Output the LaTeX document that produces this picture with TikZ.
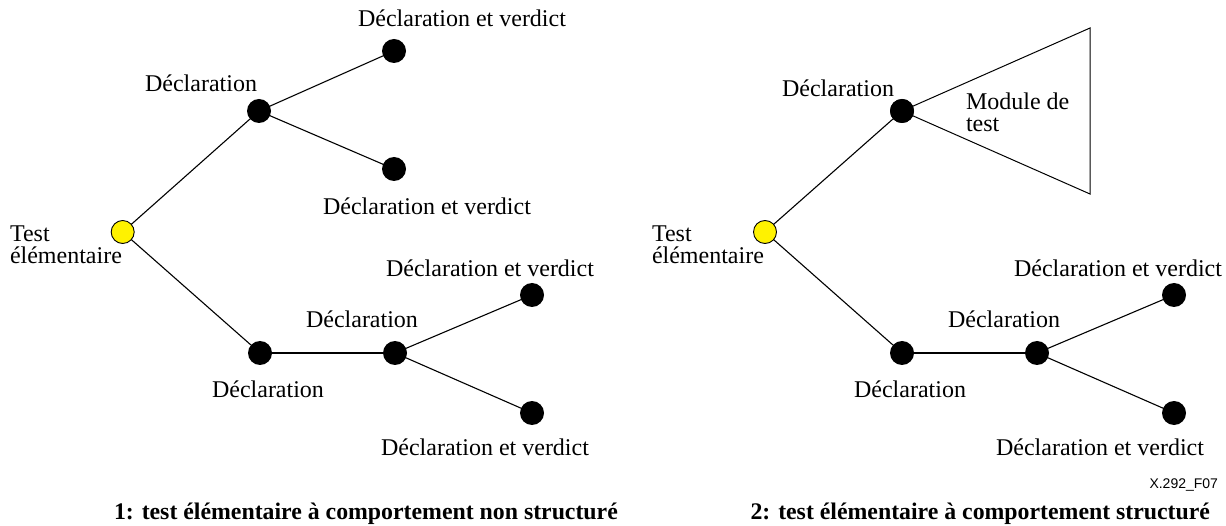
\documentclass[tikz,border=0pt]{standalone}
\usepackage{fontspec}
\setmainfont{Liberation Serif}
\newfontfamily\labelsans{Liberation Sans}
\begin{document}
\begin{tikzpicture}[x=1pt,y=-1pt,
  every node/.style={inner sep=0pt, outer sep=0pt},
  txt/.style={font=\fontsize{24}{22}\selectfont},
  captext/.style={font=\fontsize{23.8}{22}\selectfont\bfseries},
  root/.style={circle, draw=black, line width=0.9pt, fill=yellow, minimum size=23pt},
  dot/.style={circle, fill=black, minimum size=24pt},
  edge/.style={draw=black, line width=1.1pt}]
\useasboundingbox (0,0) rectangle (1226,526);

% ---- left tree: unstructured behaviour ----
\node[root] (r1) at (122.7,232) {};
\node[dot] (a1) at (259,111) {};
\node[dot] (a1u) at (394,51) {};
\node[dot] (a1d) at (394,169) {};
\node[dot] (b1) at (260,353) {};
\node[dot] (c1) at (395,353) {};
\node[dot] (c1u) at (532,295) {};
\node[dot] (c1d) at (532,413) {};

\draw[edge] (r1) -- (a1);
\draw[edge] (r1) -- (b1);
\draw[edge] (a1) -- (a1u);
\draw[edge] (a1) -- (a1d);
\draw[edge] (b1) -- (c1);
\draw[edge] (c1) -- (c1u);
\draw[edge] (c1) -- (c1d);

\node[txt, anchor=north west, align=left] (t1) at (10,226) {Test\\élémentaire};
\node[txt, anchor=base east] (la1) at (257,92) {Déclaration};
\node[txt, anchor=base] (la1u) at (462,27) {Déclaration et verdict};
\node[txt, anchor=base] (la1d) at (427,215) {Déclaration et verdict};
\node[txt, anchor=base] (lb1) at (268,398) {Déclaration};
\node[txt, anchor=base] (lc1) at (362,328) {Déclaration};
\node[txt, anchor=base] (lc1u) at (490,277) {Déclaration et verdict};
\node[txt, anchor=base] (lc1d) at (485,455) {Déclaration et verdict};

% ---- right tree: structured behaviour ----
\node[root] (r2) at (765,232) {};
\node[dot] (a2) at (902,111) {};
\coordinate (m2u) at (1090,28);
\coordinate (m2d) at (1090,194);
\node[dot] (b2) at (902,353) {};
\node[dot] (c2) at (1037,353) {};
\node[dot] (c2u) at (1174,295) {};
\node[dot] (c2d) at (1174,413) {};

\draw[edge] (r2) -- (a2);
\draw[edge] (r2) -- (b2);
\draw[edge, line width=1pt] (a2.center) -- (m2u) -- (m2d) -- cycle;
\node[dot] at (a2) {};
\draw[edge] (b2) -- (c2);
\draw[edge] (c2) -- (c2u);
\draw[edge] (c2) -- (c2d);

\node[txt, anchor=north west, align=left] (t2) at (652,226) {Test\\élémentaire};
\node[txt, anchor=base east] (la2) at (894,97) {Déclaration};
\node[txt, anchor=north west, align=left] (mod) at (966,93) {Module de\\test};
\node[txt, anchor=base] (lb2) at (910,398) {Déclaration};
\node[txt, anchor=base] (lc2) at (1004,328) {Déclaration};
\node[txt, anchor=base] (lc2u) at (1118,277) {Déclaration et verdict};
\node[txt, anchor=base] (lc2d) at (1100,455) {Déclaration et verdict};

% ---- figure reference and captions ----
\node[anchor=base east, font=\fontsize{14}{16}\labelsans] (ref) at (1218,488) {X.292\_F07};
\node[captext, anchor=base west] (cap1) at (114,519) {1: test élémentaire à comportement non structuré};
\node[captext, anchor=base east] (cap2) at (1210,519) {2: test élémentaire à comportement structuré};
\end{tikzpicture}
\end{document}
